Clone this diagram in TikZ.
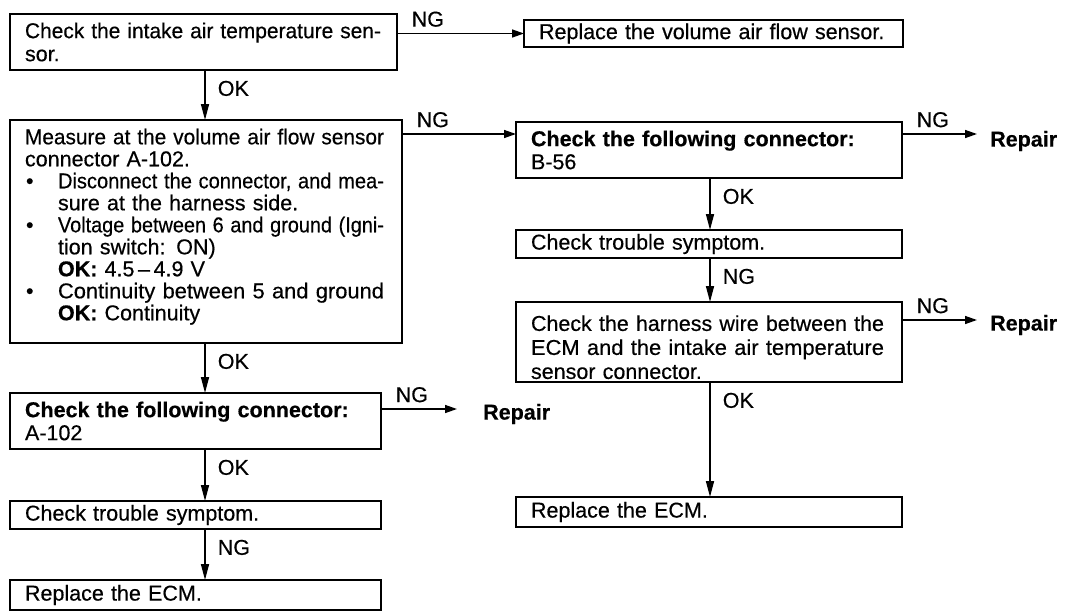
\documentclass[tikz,border=0pt]{standalone}
\usepackage{fontspec}
\setmainfont{Liberation Sans}[FakeBold=0.45]
\usetikzlibrary{arrows.meta}
\newcommand\fitw[2]{\resizebox{#1}{\height}{#2}}
\newcommand\bul{\makebox[33pt][l]{\hspace{1pt}\textbullet}}
\newcommand\ind{\hspace*{33pt}}
\begin{document}
\begin{tikzpicture}[x=1pt,y=-1pt,
  box/.style={draw, line width=2pt, anchor=north west, inner xsep=15pt, inner ysep=0pt,
    outer sep=0pt, align=left, font=\fontsize{21.5pt}{23pt}\selectfont},
  lbl/.style={inner sep=0pt, font=\fontsize{21.5pt}{22pt}\selectfont},
  rep/.style={inner sep=0pt, anchor=west, font=\fontsize{21.5pt}{22pt}\selectfont\bfseries},
  varr/.style={line width=1.6pt, -{Triangle[length=16pt,width=8pt]}},
  harr/.style={line width=1.4pt, -{Triangle[length=12pt,width=8pt]}},
  vlab/.style={lbl, at start, anchor=north west, xshift=12pt, yshift=-10pt},
  hlab/.style={lbl, at start, anchor=south west, xshift=14pt, yshift=6pt}
]
\useasboundingbox (0,0) rectangle (1072,614);

% left column
\node[box, text width=357pt, minimum height=56pt] (b1) at (10,14)
  {\fitw{356pt}{Check the intake air temperature sen-}\\sor.};
\node[box, text width=349pt, minimum height=27pt] (r1) at (524,20)
  {Replace the volume air flow sensor.};
\node[box, text width=362pt, minimum height=223pt, font=\fontsize{21.5pt}{22pt}\selectfont] (b2) at (10,120)
  {\fitw{359pt}{Measure at the volume air flow sensor}\\
   connector A-102.\\
   \bul\fitw{326pt}{Disconnect the connector, and mea-}\\
   \ind sure at the harness side.\\
   \bul\fitw{326pt}{Voltage between 6 and ground (Igni-}\\
   \ind tion switch: ON)\\
   \ind\textbf{OK:} 4.5\,–\,4.9 V\\
   \bul\fitw{326pt}{Continuity between 5 and ground}\\
   \ind\textbf{OK:} Continuity\rule[-14pt]{0pt}{1pt}};
\node[box, text width=341pt, minimum height=56pt] (b7) at (10,393)
  {\textbf{Check the following connector:}\\A-102};
\node[box, text width=341pt, minimum height=28pt] (b8) at (10,501)
  {Check trouble symptom.};
\node[box, text width=341pt, minimum height=30pt] (b9) at (10,580)
  {Replace the ECM.};

% right column
\node[box, text width=356pt, minimum height=56pt] (b3) at (516,122)
  {\textbf{Check the following connector:}\\B-56};
\node[box, text width=356pt, minimum height=28pt] (b4) at (516,230)
  {Check trouble symptom.};
\node[box, text width=356pt, minimum height=80pt, font=\fontsize{21.5pt}{24pt}\selectfont] (b5) at (516,302)
  {\rule{0pt}{26pt}\fitw{353pt}{Check the harness wire between the}\\
   \fitw{353pt}{ECM and the intake air temperature}\\
   sensor connector.};
\node[box, text width=356pt, minimum height=30pt] (b6) at (516,497)
  {Replace the ECM.};

% repair labels and arrow ends
\node[rep] (rp1) at (990,141) {Repair};
\node[rep] (rp2) at (990,325) {Repair};
\node[rep] (rp3) at (483,414) {Repair};
\coordinate (e1) at (977,134);
\coordinate (e2) at (977,320);
\coordinate (e3) at (457,409);
\coordinate (row2) at (0,134);
\coordinate (colL) at (205,0);
\coordinate (colR) at (710,0);

% horizontal connectors
\draw[harr] (b1.east |- r1.west) -- (r1.west) node[hlab] {NG};
\draw[harr] (b2.east |- row2) -- (b3.west |- row2) node[hlab] {NG};
\draw[harr] (b3.east |- e1) -- (e1) node[hlab] {NG};
\draw[harr] (b5.east |- e2) -- (e2) node[hlab] {NG};
\draw[harr] (b7.east |- e3) -- (e3) node[hlab] {NG};

% vertical connectors
\draw[varr] (b1.south -| colL) -- (b2.north -| colL) node[vlab] {OK};
\draw[varr] (b2.south -| colL) -- (b7.north -| colL) node[vlab] {OK};
\draw[varr] (b7.south -| colL) -- (b8.north -| colL) node[vlab] {OK};
\draw[varr] (b8.south -| colL) -- (b9.north -| colL) node[vlab] {NG};
\draw[varr] (b3.south -| colR) -- (b4.north -| colR) node[vlab] {OK};
\draw[varr] (b4.south -| colR) -- (b5.north -| colR) node[vlab] {NG};
\draw[varr] (b5.south -| colR) -- (b6.north -| colR) node[vlab] {OK};
\end{tikzpicture}
\end{document}
